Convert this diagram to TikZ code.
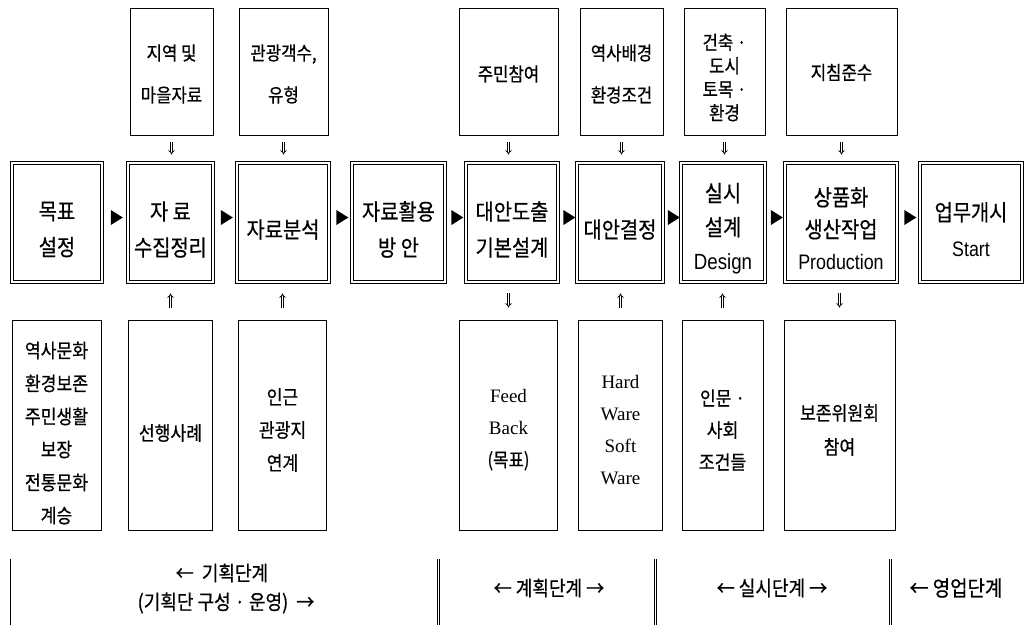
\documentclass[tikz,border=0pt]{standalone}
\usepackage{fontspec}
\setmainfont{Liberation Serif}
\newfontfamily\kr[FakeStretch=0.88, FakeBold=0.6]{Noto Sans CJK KR}
\newfontfamily\ensans[FakeStretch=0.85]{Liberation Sans}
\usetikzlibrary{arrows.meta,shapes.geometric}
\tikzset{
  tbox/.style={draw, line width=0.9pt, inner sep=0pt},
  mbox/.style={draw, double, double distance=2pt, line width=0.8pt, inner sep=0pt},
  ttxt/.style={align=center, inner sep=0pt, font=\kr\fontsize{19}{42}\selectfont},
  mtxt/.style={align=center, inner sep=0pt, font=\kr\fontsize{22.5}{36}\selectfont},
  btxt/.style={align=center, inner sep=0pt, font=\kr\fontsize{19.5}{33}\selectfont},
  ptxt/.style={align=center, inner sep=0pt, font=\kr\fontsize{20.5}{32}\selectfont},
  tri/.style={isosceles triangle, fill=black, draw=none, minimum height=12pt, minimum width=15pt, inner sep=0pt, isosceles triangle stretches, yshift=5pt},
  imp/.style={-{Implies}, double, double distance=1.4pt, line width=0.75pt},
  sep/.style={line width=0.9pt},
  dsep/.style={double, double distance=1.6pt, line width=0.9pt},
}
\begin{document}
\begin{tikzpicture}[x=1pt,y=-1pt]
\useasboundingbox (0,0) rectangle (1026,625);
% top boxes
\node[tbox, minimum width=83pt, minimum height=127pt] (t1) at (171.5,71.5) {};
\node[tbox, minimum width=89pt, minimum height=127pt] (t2) at (283.5,71.5) {};
\node[tbox, minimum width=99pt, minimum height=127pt] (t3) at (508.5,71.5) {};
\node[tbox, minimum width=83pt, minimum height=127pt] (t4) at (621.5,71.5) {};
\node[tbox, minimum width=81pt, minimum height=127pt] (t5) at (724.5,71.5) {};
\node[tbox, minimum width=111pt, minimum height=127pt] (t6) at (841.5,71.5) {};
\node[ttxt] (t1t) at ([yshift=-2.5pt]t1.center) {지역 및\\마을자료};
\node[ttxt] (t2t) at ([yshift=-2.5pt]t2.center) {관광객수,\\유형};
\node[ttxt] (t3t) at ([yshift=-2.5pt]t3.center) {주민참여};
\node[ttxt] (t4t) at ([yshift=-2.5pt]t4.center) {역사배경\\환경조건};
\node[ttxt, font=\kr\fontsize{19}{23.5}\selectfont] (t5t) at ([yshift=-6pt]t5.center) {건축 ·\\도시\\토목 ·\\환경};
\node[ttxt] (t6t) at ([yshift=-1pt]t6.center) {지침준수};
% middle boxes
\node[mbox, minimum width=90pt, minimum height=119pt] (m1) at (57,222.5) {};
\node[mbox, minimum width=85pt, minimum height=119pt] (m2) at (170.5,222.5) {};
\node[mbox, minimum width=92pt, minimum height=119pt] (m3) at (283,222.5) {};
\node[mbox, minimum width=93pt, minimum height=119pt] (m4) at (398.5,222.5) {};
\node[mbox, minimum width=92pt, minimum height=119pt] (m5) at (512,222.5) {};
\node[mbox, minimum width=86pt, minimum height=119pt] (m6) at (620,222.5) {};
\node[mbox, minimum width=84pt, minimum height=119pt] (m7) at (723,222.5) {};
\node[mbox, minimum width=112pt, minimum height=119pt] (m8) at (841,222.5) {};
\node[mbox, minimum width=102pt, minimum height=119pt] (m9) at (971,222.5) {};
\node[mtxt] (m1t) at ([yshift=-7pt]m1.center) {목표\\설정};
\node[mtxt] (m2t) at ([yshift=-7pt]m2.center) {자 료\\수집정리};
\node[mtxt] (m3t) at ([yshift=-7pt]m3.center) {자료분석};
\node[mtxt] (m4t) at ([yshift=-7pt]m4.center) {자료활용\\방 안};
\node[mtxt] (m5t) at ([yshift=-7pt]m5.center) {대안도출\\기본설계};
\node[mtxt] (m6t) at ([yshift=-7pt]m6.center) {대안결정};
\node[mtxt, font=\kr\fontsize{22.5}{34}\selectfont] (m7t) at ([yshift=-6pt]m7.center) {실시\\설계\\{\ensans\fontsize{22}{34}\selectfont Design}};
\node[mtxt, font=\kr\fontsize{22.5}{32}\selectfont] (m8t) at ([yshift=-6pt]m8.center) {상품화\\생산작업\\{\ensans\fontsize{21}{32}\selectfont Production}};
\node[mtxt] (m9t) at ([yshift=-7pt]m9.center) {업무개시\\{\ensans\fontsize{21}{36}\selectfont Start}};
% triangles between middle boxes
\path (m1.east) -- node[tri] (a1) {} (m2.west);
\path (m2.east) -- node[tri] (a2) {} (m3.west);
\path (m3.east) -- node[tri] (a3) {} (m4.west);
\path (m4.east) -- node[tri] (a4) {} (m5.west);
\path (m5.east) -- node[tri] (a5) {} (m6.west);
\path (m6.east) -- node[tri] (a6) {} (m7.west);
\path (m7.east) -- node[tri] (a7) {} (m8.west);
\path (m8.east) -- node[tri] (a8) {} (m9.west);
% bottom boxes
\node[tbox, minimum width=89pt, minimum height=210pt] (b1) at (56.5,425) {};
\node[tbox, minimum width=84pt, minimum height=210pt] (b2) at (170.5,425) {};
\node[tbox, minimum width=88pt, minimum height=210pt] (b3) at (282.5,425) {};
\node[tbox, minimum width=98pt, minimum height=210pt] (b4) at (508.5,425) {};
\node[tbox, minimum width=84pt, minimum height=210pt] (b5) at (620.5,425) {};
\node[tbox, minimum width=81pt, minimum height=210pt] (b6) at (722.5,425) {};
\node[tbox, minimum width=111pt, minimum height=210pt] (b7) at (839.5,425) {};
\node[btxt] (b1t) at ([yshift=-8pt]b1.center) {역사문화\\환경보존\\주민생활\\보장\\전통문화\\계승};
\node[btxt] (b2t) at ([yshift=-8pt]b2.center) {선행사례};
\node[btxt] (b3t) at ([yshift=-5pt]b3.center) {인근\\관광지\\연계};
\node[align=center, inner sep=0pt, font=\fontsize{19}{32}\selectfont] (b4t) at ([yshift=-5pt]b4.center) {Feed\\Back\\{\kr (목표)}};
\node[align=center, inner sep=0pt, font=\fontsize{19}{32}\selectfont] (b5t) at ([yshift=-5pt]b5.center) {Hard\\Ware\\Soft\\Ware};
\node[btxt, font=\kr\fontsize{19.5}{32}\selectfont] (b6t) at ([yshift=-5pt]b6.center) {인문 ·\\사회\\조건들};
\node[btxt, font=\kr\fontsize{19.5}{34}\selectfont] (b7t) at ([yshift=-5pt]b7.center) {보존위원회\\참여};
% double arrows top -> middle
\draw[imp, shorten <=7pt, shorten >=8pt] (t1.south) -- (t1.south |- m2.north);
\draw[imp, shorten <=7pt, shorten >=8pt] (t2.south) -- (t2.south |- m3.north);
\draw[imp, shorten <=7pt, shorten >=8pt] (t3.south) -- (t3.south |- m5.north);
\draw[imp, shorten <=7pt, shorten >=8pt] (t4.south) -- (t4.south |- m6.north);
\draw[imp, shorten <=7pt, shorten >=8pt] (t5.south) -- (t5.south |- m7.north);
\draw[imp, shorten <=7pt, shorten >=8pt] (t6.south) -- (t6.south |- m8.north);
% bottom <-> middle
\draw[imp, shorten <=12pt, shorten >=11pt] (b2.north) -- (b2.north |- m2.south);
\draw[imp, shorten <=12pt, shorten >=11pt] (b3.north) -- (b3.north |- m3.south);
\draw[imp, shorten <=11pt, shorten >=12pt] (b4.north |- m5.south) -- (b4.north);
\draw[imp, shorten <=12pt, shorten >=11pt] (b5.north) -- (b5.north |- m6.south);
\draw[imp, shorten <=12pt, shorten >=11pt] (b6.north) -- (b6.north |- m7.south);
\draw[imp, shorten <=11pt, shorten >=12pt] (b7.north |- m8.south) -- (b7.north);
% phase separators
\draw[sep] (10.5,559) -- (10.5,625);
\draw[dsep] (438.5,559) -- (438.5,625);
\draw[dsep] (655.5,559) -- (655.5,625);
\draw[dsep] (890.5,559) -- (890.5,625);
% phase labels
\node[ptxt] (p1) at (222,573) {← \ 기획단계};
\node[ptxt] (p2) at (226,603) {(기획단 구성 · 운영) \ →};
\node[ptxt] (p3) at (549,588) {← 계획단계 →};
\node[ptxt] (p4) at (772,588) {← 실시단계 →};
\node[ptxt, font=\kr\fontsize{21.5}{32}\selectfont] (p5) at (956,588) {← 영업단계};
\end{tikzpicture}
\end{document}
